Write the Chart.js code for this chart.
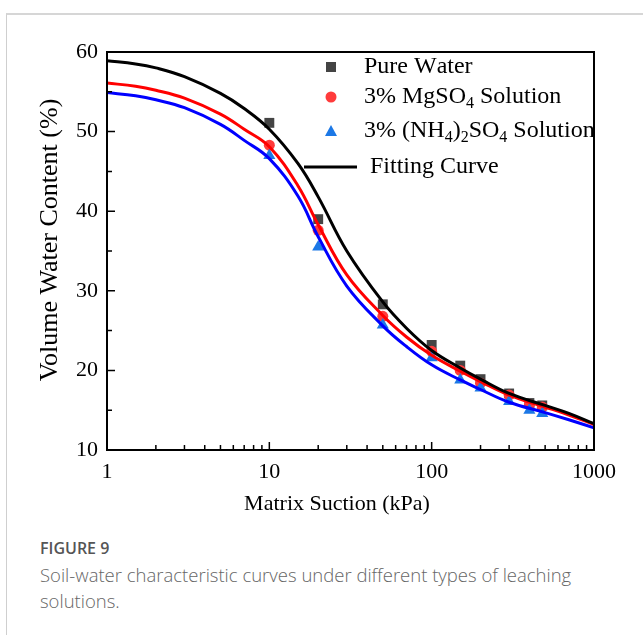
<!DOCTYPE html>
<html>
<head>
<meta charset="utf-8">
<script src="https://cdn.jsdelivr.net/npm/chart.js@4.4.1/dist/chart.umd.min.js"></script>
<style>
	body { margin: 0; background: #fff; }
	#page { position: relative; width: 643px; height: 635px; overflow: hidden; }
	#card {
		position: absolute; left: 6px; top: 13px; right: -2px; bottom: -2px;
		border-left: 1px solid #cfcfcf; border-top: 2px solid #d6d6d6;
	}
	#plot { position: absolute; left: 0; top: 0; }
	#caption {
		position: absolute; left: 40px; top: 537px; width: 560px;
		font-family: 'Open Sans', sans-serif; color: #666;
	}
	#caption .fig { font-size: 16px; font-weight: 600; color: #555; margin-bottom: 3px; }
	#caption .txt { font-size: 18.5px; line-height: 26px; font-weight: 300; }
</style>
</head>
<body>
<div id="page">
	<div id="card"></div>
	<canvas id="plot" width="643" height="520"></canvas>
	<div id="caption">
		<div class="fig">FIGURE 9</div>
		<div class="txt">Soil-water characteristic curves under different types of leaching solutions.</div>
	</div>
</div>
<script>
// measured points
const suction = [10, 20, 50, 100, 150, 200, 300, 400, 480];
const pureWater = [51.1, 39.0, 28.3, 23.2, 20.6, 18.9, 17.1, 15.9, 15.6];
const mgso4 = [48.3, 37.6, 26.8, 22.4, 20.0, 18.4, 16.9, 15.7, 15.4];
const nh4so4 = [47.0, 35.5, 25.7, 21.6, 18.8, 17.8, 16.1, 15.0, 14.6];

// fitted curves
const fitSuction = [1, 1.5, 2, 3, 5, 7, 10, 15, 20, 30, 50, 70, 100, 150, 200, 300, 500, 700, 1000];
const pureFit = [58.9, 58.5, 58.0, 56.9, 54.8, 52.9, 50.3, 46.0, 41.8, 35.0, 28.6, 25.3, 22.5, 20.3, 18.9, 17.1, 15.6, 14.6, 13.3];
const mgFit = [56.1, 55.7, 55.2, 54.2, 52.2, 50.3, 48.1, 43.2, 38.3, 32.0, 26.9, 24.2, 21.9, 19.9, 18.6, 16.9, 15.4, 14.4, 13.2];
const nhFit = [54.9, 54.5, 54.0, 53.0, 50.9, 48.9, 46.6, 41.9, 36.8, 30.6, 25.6, 23.0, 20.7, 18.8, 17.6, 16.0, 14.7, 13.8, 12.8];

const xTicks = [1, 10, 100, 1000];
const yTicks = [10, 20, 30, 40, 50, 60];
const seriesNames = ['Pure Water', '3% MgSO_4 Solution', '3% (NH_4)_2SO_4 Solution', 'Fitting Curve'];

const SERIF = "'Liberation Serif', 'Times New Roman', serif";
const colors = { pure: '#444444', mg: '#ff3b3b', nh: '#1c78e6' };

const pts = (xs, ys) => xs.map((x, i) => ({ x, y: ys[i] }));

const curve = (data, color) => ({
	data: pts(fitSuction, data),
	showLine: true,
	borderColor: color,
	borderWidth: 3,
	pointRadius: 0,
	tension: 0.4,
});

const marks = (data, color, style, r) => ({
	data: pts(suction, data),
	showLine: false,
	pointStyle: style,
	pointRadius: r,
	backgroundColor: color,
	borderWidth: 0,
});

// draw text with "_x" as a subscript character
function drawRich(ctx, text, x, y, size) {
	let cx = x;
	for (let i = 0; i < text.length; i++) {
		const sub = text[i] === '_';
		const ch = sub ? text[++i] : text[i];
		ctx.font = `${sub ? Math.round(size * 0.65) : size}px ${SERIF}`;
		ctx.fillText(ch, cx, sub ? y + size * 0.28 : y);
		cx += ctx.measureText(ch).width;
	}
}

const framePlugin = {
	id: 'frame',
	afterDraw(chart) {
		const { ctx, chartArea: a, scales: { x, y } } = chart;
		ctx.save();
		ctx.strokeStyle = '#000';
		ctx.lineWidth = 2;
		ctx.strokeRect(a.left, a.top, a.right - a.left, a.bottom - a.top);

		ctx.lineWidth = 1.5;
		ctx.beginPath();
		for (let v = 10; v <= 60; v += 5) {
			const py = y.getPixelForValue(v);
			ctx.moveTo(a.left, py);
			ctx.lineTo(a.left + (v % 10 === 0 ? 8 : 5), py);
		}
		for (let d = 1; d < 1000; d *= 10) {
			for (let m = 1; m <= 9; m++) {
				const px = x.getPixelForValue(d * m);
				ctx.moveTo(px, a.bottom);
				ctx.lineTo(px, a.bottom - (m === 1 ? 8 : 5));
			}
		}
		ctx.stroke();

		// axis titles
		ctx.fillStyle = '#000';
		ctx.textAlign = 'center';
		ctx.textBaseline = 'middle';
		ctx.font = `22px ${SERIF}`;
		ctx.fillText('Matrix Suction (kPa)', 337, 504);
		ctx.save();
		ctx.translate(50, 240);
		ctx.rotate(-Math.PI / 2);
		ctx.font = `26px ${SERIF}`;
		ctx.fillText('Volume Water Content (%)', 0, 0);
		ctx.restore();

		// legend
		const rows = [67, 97, 131, 167];
		ctx.fillStyle = colors.pure;
		ctx.fillRect(326, rows[0] - 5, 10, 10);
		ctx.fillStyle = colors.mg;
		ctx.beginPath();
		ctx.arc(331, rows[1], 5.5, 0, Math.PI * 2);
		ctx.fill();
		ctx.fillStyle = colors.nh;
		ctx.beginPath();
		ctx.moveTo(331, rows[2] - 6);
		ctx.lineTo(337, rows[2] + 5);
		ctx.lineTo(325, rows[2] + 5);
		ctx.closePath();
		ctx.fill();
		ctx.strokeStyle = '#000';
		ctx.lineWidth = 3;
		ctx.beginPath();
		ctx.moveTo(304, rows[3]);
		ctx.lineTo(357, rows[3]);
		ctx.stroke();

		ctx.fillStyle = '#000';
		ctx.textAlign = 'left';
		ctx.textBaseline = 'middle';
		seriesNames.forEach((name, i) => {
			drawRich(ctx, name, i === 3 ? 370 : 364, rows[i], 24);
		});
		ctx.restore();
	},
};

new Chart(document.getElementById('plot'), {
	type: 'scatter',
	data: {
		datasets: [
			curve(pureFit, '#000000'),
			curve(mgFit, '#ff0000'),
			curve(nhFit, '#0000ff'),
			marks(nh4so4, colors.nh, 'triangle', 7),
			marks(mgso4, colors.mg, 'circle', 5.5),
			marks(pureWater, colors.pure, 'rect', 7),
		],
	},
	options: {
		responsive: false,
		animation: false,
		layout: { padding: { left: 0, top: 52, right: 49, bottom: 0 } },
		plugins: { legend: { display: false }, tooltip: { enabled: false } },
		scales: {
			x: {
				type: 'logarithmic',
				min: 1,
				max: 1000,
				afterBuildTicks: (s) => { s.ticks = xTicks.map((value) => ({ value })); },
				afterFit: (s) => { s.height = 70; },
				grid: { display: false, drawTicks: false },
				border: { display: false },
				ticks: {
					autoSkip: false,
					maxRotation: 0,
					padding: 9,
					color: '#000',
					font: { family: SERIF, size: 22 },
					callback: (v) => String(v),
				},
			},
			y: {
				min: 10,
				max: 60,
				afterBuildTicks: (s) => { s.ticks = yTicks.map((value) => ({ value })); },
				afterFit: (s) => { s.width = 107; },
				grid: { display: false, drawTicks: false },
				border: { display: false },
				ticks: {
					padding: 9,
					color: '#000',
					font: { family: SERIF, size: 22 },
				},
			},
		},
	},
	plugins: [framePlugin],
});
</script>
</body>
</html>
